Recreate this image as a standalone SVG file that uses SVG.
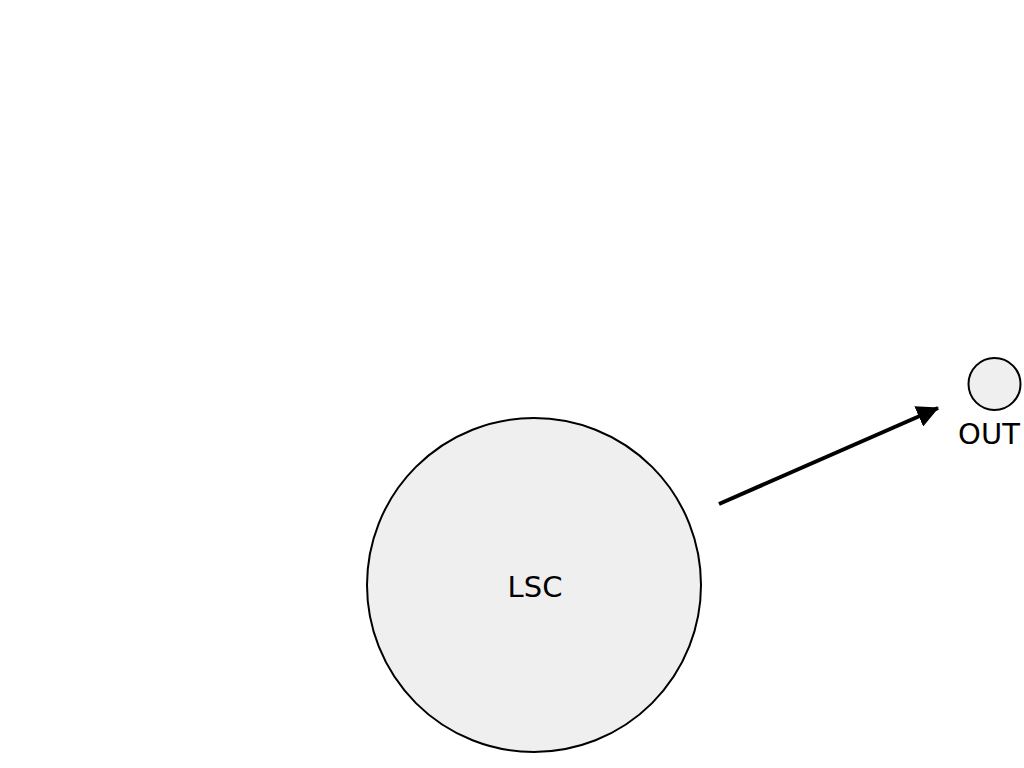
<svg xmlns="http://www.w3.org/2000/svg" width="1024" height="768" viewBox="0 0 1024 768">
<style>
.node{fill:#efefef;stroke:#000;stroke-width:2}
.lbl{font-family:"DejaVu Sans",sans-serif;font-size:29px;fill:#000;text-anchor:middle}
.edge{stroke:#000;stroke-width:4;fill:none}
</style>
<defs>
<marker id="arr" viewBox="0 0 22 22" refX="21" refY="11" markerWidth="22" markerHeight="22" markerUnits="userSpaceOnUse" orient="auto">
<path d="M0,0 L22,11 L0,22 z" fill="#000"/>
</marker>
</defs>
<rect width="1024" height="768" fill="#fff"/>
<g id="connectors">
<line class="edge" x1="719" y1="504" x2="938" y2="408" marker-end="url(#arr)"/>
</g>
<g id="LSC">
<circle class="node" cx="534" cy="585" r="167"/>
<text class="lbl" x="535" y="597">LSC</text>
</g>
<g id="OUT">
<circle class="node" cx="994.5" cy="384" r="26"/>
<text class="lbl" x="989" y="444">OUT</text>
</g>
</svg>
